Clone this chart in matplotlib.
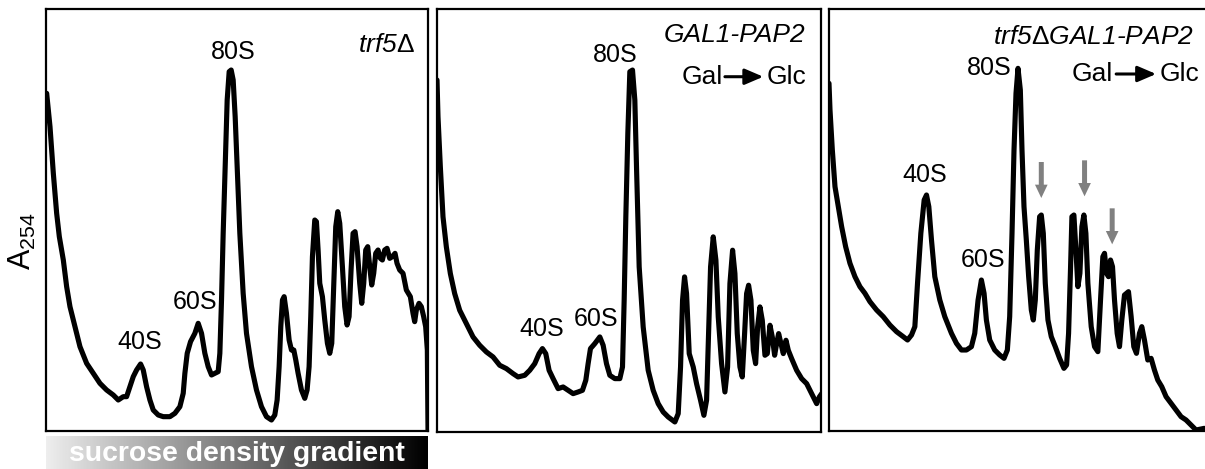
import numpy as np
import matplotlib
matplotlib.use("Agg")
import matplotlib.pyplot as plt

plt.rcParams['font.family'] = ['Liberation Sans', 'DejaVu Sans']
plt.rcParams['mathtext.fontset'] = 'custom'
plt.rcParams['mathtext.rm'] = 'Liberation Sans'
plt.rcParams['mathtext.it'] = 'Liberation Sans:italic'

# ---------------- data (arbitrary units: position along gradient, A254) ----------------
p1_pos = [2, 12, 22, 32, 40, 52, 62, 72, 87, 102, 122, 142, 162, 182, 202, 217, 232, 242, 252, 262,
          272, 284, 292, 302, 312, 322, 337, 352, 372, 387, 402, 412, 417, 424, 434, 447, 457, 467,
          477, 487, 497, 507, 517, 522, 527, 532, 538, 544, 550, 556, 562, 568, 574, 582, 592, 602,
          617, 632, 647, 662, 677, 687, 694, 700, 705, 710, 715, 722, 730, 737, 744, 750, 757, 767,
          777, 784, 790, 795, 800, 807, 812, 817, 822, 830, 837, 845, 852, 858, 864, 870, 876, 882,
          890, 897, 904, 910, 916, 922, 928, 934, 942, 948, 954, 960, 966, 972, 978, 984, 990, 997,
          1004, 1010, 1017, 1024, 1032, 1040, 1048, 1054, 1062, 1072, 1082, 1094, 1102, 1107, 1112,
          1120, 1127, 1134, 1140, 1145, 1147]
p1_abs = [1013, 913, 773, 653, 583, 513, 433, 373, 313, 253, 203, 173, 143, 123, 108, 93, 103, 103, 133, 163,
          183, 201, 183, 133, 93, 63, 48, 43, 43, 53, 73, 113, 173, 233, 268, 293, 323, 293,
          233, 193, 168, 173, 178, 233, 393, 593, 793, 993, 1078, 1083, 1053, 943, 793, 593, 413, 293,
          193, 123, 73, 43, 33, 48, 93, 193, 313, 393, 403, 353, 273, 243, 243, 213, 173, 123,
          98, 123, 193, 343, 523, 633, 628, 543, 443, 403, 333, 263, 233, 263, 443, 613, 658, 623,
          493, 373, 318, 343, 483, 593, 598, 553, 443, 383, 443, 543, 553, 493, 438, 473, 533, 543,
          518, 513, 543, 548, 518, 523, 533, 503, 483, 473, 423, 403, 353, 328, 363,
          383, 373, 343, 313, 243, 3]

p2_pos = [0, 3, 10, 18, 28, 40, 53, 68, 88, 108, 128, 148, 168, 188, 208, 228, 243, 263, 278, 293,
          306, 316, 326, 336, 348, 363, 378, 393, 408, 423, 436, 446, 453, 460, 473, 488, 498, 508,
          518, 533, 548, 556, 561, 566, 572, 578, 586, 593, 598, 606, 618, 633, 648, 663, 678, 693,
          713, 723, 730, 736, 742, 748, 756, 768, 778, 790, 800, 808, 814, 820, 828, 836, 843, 853,
          863, 871, 878, 886, 893, 900, 908, 915, 922, 928, 934, 941, 948, 955, 961, 968, 975, 983,
          990, 998, 1005, 1012, 1018, 1024, 1031, 1038, 1046, 1053, 1063, 1078, 1093, 1108, 1123,
          1138, 1146, 1153]
p2_abs = [1055, 945, 795, 645, 555, 475, 415, 365, 325, 285, 260, 240, 225, 200, 190, 175, 165, 170, 185, 205,
          235, 250, 235, 185, 160, 130, 135, 125, 115, 120, 125, 155, 205, 250, 265, 285, 260, 205,
          170, 160, 160, 195, 395, 645, 895, 1080, 1085, 995, 795, 495, 315, 185, 125, 85, 60, 45,
          30, 55, 195, 395, 465, 415, 235, 195, 145, 95, 50, 95, 295, 495, 585, 515, 345, 205,
          120, 195, 445, 545, 475, 295, 195, 165, 295, 415, 440, 395, 245, 205, 315, 375, 335, 230,
          235, 320, 285, 230, 265, 295, 265, 235, 275, 245, 220, 185, 160, 145, 115,
          85, 105, 115]

p3_pos = [0, 3, 10, 18, 28, 38, 50, 63, 78, 93, 108, 123, 143, 163, 183, 203, 223, 236, 248, 258,
          266, 276, 286, 293, 300, 308, 318, 333, 348, 368, 383, 398, 413, 428, 438, 448, 458, 466,
          473, 483, 498, 513, 526, 536, 543, 550, 556, 562, 568, 575, 580, 586, 593, 600, 608, 614,
          620, 626, 633, 638, 644, 650, 658, 668, 680, 693, 706, 714, 720, 726, 730, 736, 742, 748,
          754, 760, 766, 772, 778, 788, 798, 808, 816, 823, 828, 834, 840, 846, 852, 858, 866, 873,
          880, 888, 900, 908, 916, 924, 933, 940, 948, 958, 968, 978, 988, 1000, 1013, 1028, 1043,
          1058, 1073, 1088, 1103, 1128]
p3_abs = [1043, 963, 843, 733, 673, 613, 553, 503, 463, 433, 413, 388, 363, 343, 318, 298, 283, 273, 288, 313,
          443, 593, 693, 708, 673, 573, 463, 393, 343, 293, 263, 243, 243, 253, 293, 393, 453, 413,
          333, 273, 243, 228, 218, 243, 343, 593, 843, 1013, 1088, 1023, 843, 673, 573, 463, 363, 333,
          393, 543, 643, 648, 593, 443, 333, 283, 253, 218, 188, 198, 293, 493, 643, 648, 543, 433,
          473, 613, 648, 593, 443, 313, 253, 238, 393, 523, 533, 473, 463, 513, 493, 393, 293, 253,
          333, 408, 418, 343, 253, 233, 293, 313, 273, 213, 218, 183, 153, 133, 103, 83, 63,
          43, 33, 18, 3, 8]

panel_pos = [p1_pos, p2_pos, p3_pos]
panel_abs = [p1_abs, p2_abs, p3_abs]
panel_xmax = [1147, 1151, 1151]
panel_ymax = [1266, 1268, 1266]

strain_labels = [r'trf5$\Delta$', 'GAL1-PAP2', r'trf5$\Delta$GAL1-PAP2']
strain_label_pos = [(1107, 1158), (1103, 1190), (1096, 1183)]
shift_label = [False, True, True]
shift_y = [None, 1065, 1071]
shift_x = [None, (735, 858, 863, 978, 988), (743, 853, 863, 983, 993)]

peak_names = ['40S', '60S', '80S']
peak_label_pos = [
    [(282, 268), (447, 388), (562, 1138)],
    [(313, 310), (478, 340), (533, 1130)],
    [(288, 768), (463, 513), (483, 1088)],
]

# grey arrows (panel 3): position, top, tip
arrow_x = [638, 768, 851]
arrow_top = [807, 812, 668]
arrow_tip = [699, 704, 560]

# ---------------- figure ----------------
W, H = 1205, 469
fig = plt.figure(figsize=(W / 100, H / 100), dpi=100)

boxes_px = [(46, 9, 428, 431), (437, 9, 821, 432), (829, 9, 1212, 431)]

for i in range(3):
    l, t, r, b = boxes_px[i]
    ax = fig.add_axes([l / W, 1 - b / H, (r - l) / W, (b - t) / H])
    ax.plot(panel_pos[i], panel_abs[i], color='black', lw=3.7, solid_joinstyle='round',
            solid_capstyle='round')
    ax.set_xlim(0, panel_xmax[i])
    ax.set_ylim(0, panel_ymax[i])
    ax.set_xticks([])
    ax.set_yticks([])
    for s in ax.spines.values():
        s.set_linewidth(1.6)
        s.set_color('black')
    for name, (px, py) in zip(peak_names, peak_label_pos[i]):
        ax.text(px, py, name, ha='center', va='center', fontsize=18)
    sx, sy = strain_label_pos[i]
    ax.text(sx, sy, strain_labels[i], ha='right', va='center', fontsize=19, style='italic')
    if shift_label[i]:
        g0, g1, a0, a1, c0 = shift_x[i]
        y = shift_y[i]
        ax.text(g1, y, 'Gal', ha='right', va='center', fontsize=19)
        ax.annotate('', xy=(a1, y), xytext=(a0, y),
                    arrowprops=dict(arrowstyle='-|>,head_length=0.7,head_width=0.3',
                                    color='black', lw=2.2, mutation_scale=16,
                                    shrinkA=0, shrinkB=0))
        ax.text(c0, y, 'Glc', ha='left', va='center', fontsize=19)
    if i == 2:
        for xa, yt, yb in zip(arrow_x, arrow_top, arrow_tip):
            ax.arrow(xa, yt, 0, yb - yt, width=15, head_width=38, head_length=40,
                     length_includes_head=True, color='#808080', lw=0)

# y-axis label
fig.text(22 / W, 1 - 241 / H, r'A$_{\mathrm{254}}$', rotation=90, ha='center', va='center',
         fontsize=22)

# sucrose density gradient bar
gax = fig.add_axes([46 / W, 0, (428 - 46) / W, (469 - 436) / H])
grad = np.linspace(0.93, 0.0, 256).reshape(1, -1)
gax.imshow(grad, aspect='auto', cmap='gray', vmin=0, vmax=1, extent=[0, 1, 0, 1])
gax.set_xticks([])
gax.set_yticks([])
for s in gax.spines.values():
    s.set_visible(False)
gax.text(0.5, 0.45, 'sucrose density gradient', ha='center', va='center', color='white',
         fontsize=20.4, fontweight='bold', transform=gax.transAxes)

fig.savefig('out.png', dpi=100)
